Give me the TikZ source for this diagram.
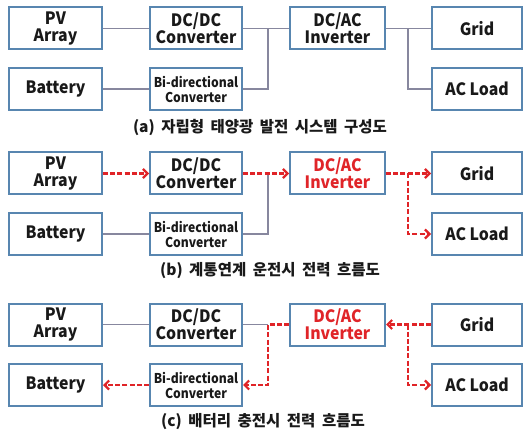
\documentclass[tikz,border=0pt]{standalone}
\usepackage{fontspec}
\usetikzlibrary{arrows.meta}
\newfontfamily\krfont{Noto Sans CJK KR}
\newfontfamily\krlabel{Noto Sans CJK KR}[FakeStretch=0.93]
\newfontfamily\krnarrow{Noto Sans CJK KR}[FakeStretch=0.9]
\definecolor{boxblue}{RGB}{88,134,176}
\definecolor{wire}{RGB}{135,135,158}
\definecolor{flowred}{RGB}{224,36,40}
\definecolor{ink}{RGB}{25,25,25}
\tikzset{
  unit/.style={draw=boxblue, line width=2pt, fill=white, text=ink,
    minimum height=42pt, inner sep=0pt, align=center,
    font={\krlabel\bfseries\fontsize{17}{17}\selectfont}},
  unitS/.style={unit, font={\krnarrow\bfseries\fontsize{13.5}{15}\selectfont}},
  conn/.style={draw=wire, line width=1.2pt},
  flow/.style={draw=flowred, line width=2.4pt, dash pattern=on 5pt off 2.2pt},
  flowarrow/.style={flow, -{Straight Barb[length=4.5pt,width=9pt,line width=2.2pt]}},
  caption/.style={text=ink, font={\krfont\bfseries\fontsize{15.5}{17}\selectfont\spaceskip=0.42em plus 0.1em}}
}
% one block diagram: five source/converter units plus the AC side
\newcommand{\drawunits}[3]{%
  \begin{scope}[shift={(0,#2)}]
    \node[unit, minimum width=93pt] (#1PV)   at (55.5,28.5) {PV\\Array};
    \node[unit, minimum width=92pt] (#1DC)   at (196,28.5)  {DC/DC\\Converter};
    \node[unit, minimum width=93pt] (#1BAT)  at (55.5,89)   {Battery};
    \node[unitS, minimum width=92pt] (#1BI)  at (196,89)    {Bi-directional\\Converter};
    \node[unit, minimum width=95pt, text=#3] (#1INV) at (337.5,28.5) {DC/AC\\Inverter};
    \node[unit, minimum width=90pt] (#1GRID) at (477,28.5)  {Grid};
    \node[unit, minimum width=90pt] (#1LOAD) at (477,89)    {AC Load};
    \coordinate (#1JL) at (268,28.5);
    \coordinate (#1JR) at (408,28.5);
  \end{scope}}
\begin{document}
\begin{tikzpicture}[x=1pt,y=-1pt]
  \useasboundingbox (0,0) rectangle (524,438);

  % (a) stand-alone system layout
  \drawunits{a}{0}{ink}
  \draw[conn] (aPV) -- (aDC);
  \draw[conn] (aDC) -- (aINV);
  \draw[conn] (aBAT) -- (aBI);
  \draw[conn] (aBI.east) -| (aJL);
  \draw[conn] (aINV) -- (aGRID);
  \draw[conn] (aJR) |- (aLOAD.west);
  \node[caption] (capA) at (260,127) {(a) 자립형 태양광 발전 시스템 구성도};

  % (b) grid-connected operation
  \drawunits{b}{145}{flowred}
  \draw[conn] (bBAT) -- (bBI);
  \draw[conn] (bBI.east) -| (bJL);
  \draw[flowarrow] (bPV) -- (bDC);
  \draw[flowarrow] (bDC) -- (bINV);
  \draw[flowarrow] (bINV) -- (bGRID);
  \draw[flowarrow] (bJR) |- (bLOAD.west);
  \node[caption] (capB) at (270,271) {(b) 계통연계 운전시 전력 흐름도};

  % (c) battery charging
  \drawunits{c}{296}{flowred}
  \draw[conn] (cPV) -- (cDC);
  \draw[conn] (cDC.east) -- (cJL);
  \draw[flowarrow] (cINV.west) -- (cJL) |- (cBI.east);
  \draw[flowarrow] (cBI) -- (cBAT);
  \draw[flowarrow] (cGRID) -- (cINV);
  \draw[flowarrow] (cJR) |- (cLOAD.west);
  \node[caption] (capC) at (263,422) {(c) 배터리 충전시 전력 흐름도};
\end{tikzpicture}
\end{document}
